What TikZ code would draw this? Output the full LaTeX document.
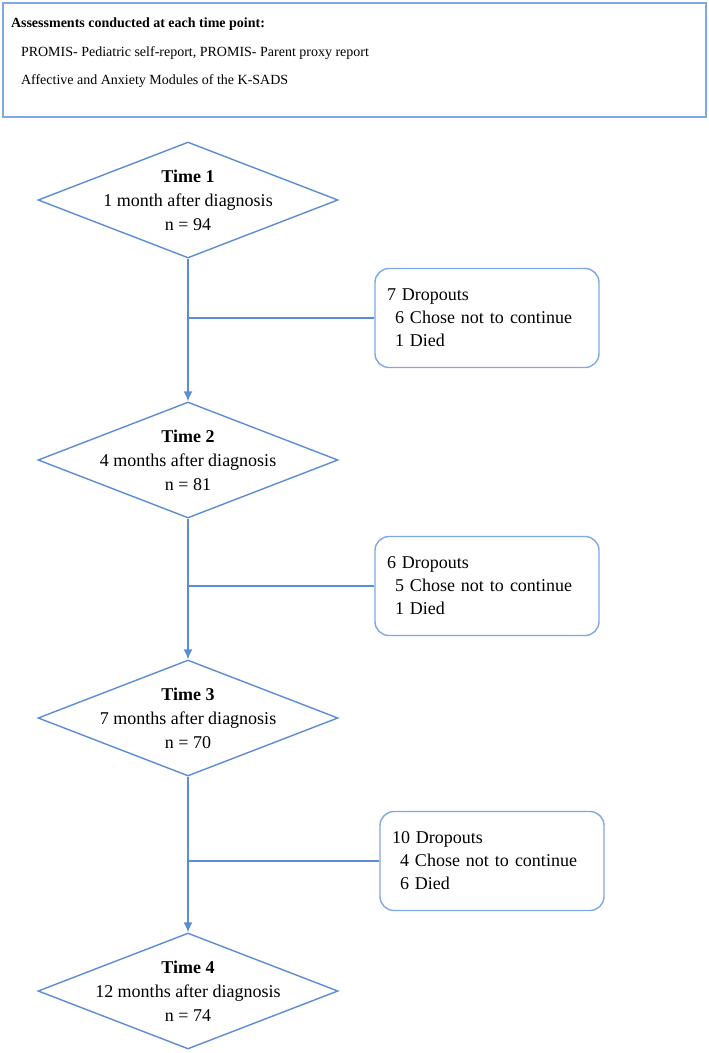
\documentclass[tikz,border=0pt]{standalone}
\usepackage{fontspec}
\setmainfont{Liberation Serif}
\usetikzlibrary{shapes.geometric}
\usetikzlibrary{arrows.meta}
\usetikzlibrary{positioning}
\definecolor{lineblue}{RGB}{91,141,214}
\definecolor{boxblue}{RGB}{125,168,226}

\begin{document}
\begin{tikzpicture}[>={Latex[length=10pt,width=9pt]}, x=1pt, y=-1pt, line width=1.4pt,
    tstep/.style={draw=lineblue, diamond, minimum width=300pt, minimum height=116pt, inner sep=0pt},
    ttext/.style={align=center, font=\fontsize{18}{24}\selectfont},
    dropbox/.style={draw=boxblue, rounded corners=14pt, minimum width=224pt, minimum height=99pt,
                    text width=200pt, align=left, font=\fontsize{18}{23}\selectfont},
    infobox/.style={draw=boxblue, minimum width=703pt, minimum height=114pt},
    link/.style={draw=lineblue}]

      % fixes the page size
      \useasboundingbox (0,0) rectangle (709,1053);

      % assessments box
      \node [infobox, name=assess] at (354.5, 60) {};
      \node [below right=15pt and 8pt of assess.north west, inner sep=0pt, align=left,
             font=\fontsize{14}{28.5}\selectfont, name=assesstext]
            {\textbf{Assessments conducted at each time point:}\\
             \hspace{10pt}PROMIS- Pediatric self-report, PROMIS- Parent proxy report\\
             \hspace{10pt}Affective and Anxiety Modules of the K-SADS};

      % time points
      \node [tstep, name=t1] at (188, 200) {};
      \node [tstep, name=t2] at (188, 460) {};
      \node [tstep, name=t3] at (188, 718) {};
      \node [tstep, name=t4] at (188, 991) {};
      \node [ttext, name=t1txt] at (t1) {\textbf{Time 1}\\1 month after diagnosis\\n = 94};
      \node [ttext, name=t2txt] at (t2) {\textbf{Time 2}\\4 months after diagnosis\\n = 81};
      \node [ttext, name=t3txt] at (t3) {\textbf{Time 3}\\7 months after diagnosis\\n = 70};
      \node [ttext, name=t4txt] at (t4) {\textbf{Time 4}\\12 months after diagnosis\\n = 74};

      % dropouts
      \node [dropbox, name=d1] at (487, 318) {7 Dropouts\\\hspace{8pt}6 Chose not to continue\\\hspace{8pt}1 Died};
      \node [dropbox, name=d2] at (487, 586) {6 Dropouts\\\hspace{8pt}5 Chose not to continue\\\hspace{8pt}1 Died};
      \node [dropbox, name=d3] at (492, 861) {10 Dropouts\\\hspace{8pt}4 Chose not to continue\\\hspace{8pt}6 Died};

      % connections
      \draw [->, link] (t1) -- (t2);
      \draw [->, link] (t2) -- (t3);
      \draw [->, link] (t3) -- (t4);
      \draw [link] (t1 |- d1.west) -- (d1.west);
      \draw [link] (t2 |- d2.west) -- (d2.west);
      \draw [link] (t3 |- d3.west) -- (d3.west);

\end{tikzpicture}
\end{document}
